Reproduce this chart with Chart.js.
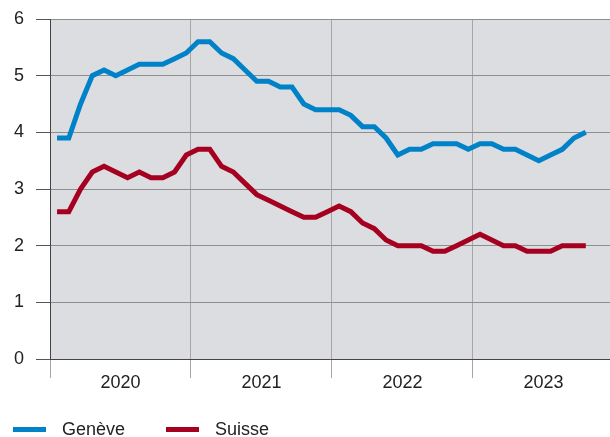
<!DOCTYPE html>
<html lang="fr">
<head>
  <meta charset="UTF-8">
  <title>Genève / Suisse</title>
  <script src="https://cdn.jsdelivr.net/npm/chart.js"></script>
  <style>
    html, body { margin: 0; padding: 0; background: #fff; }
    #wrap { width: 610px; height: 437px; }
  </style>
</head>
<body>
  <div id="wrap"><canvas id="graph"></canvas></div>
  <script>
    // valeurs mensuelles, janvier 2020 -> octobre 2023
    const annees = ['2020', '2021', '2022', '2023'];
    const geneve = [3.9, 3.9, 4.5, 5.0, 5.1, 5.0, 5.1, 5.2, 5.2, 5.2, 5.3, 5.4,
                    5.6, 5.6, 5.4, 5.3, 5.1, 4.9, 4.9, 4.8, 4.8, 4.5, 4.4, 4.4,
                    4.4, 4.3, 4.1, 4.1, 3.9, 3.6, 3.7, 3.7, 3.8, 3.8, 3.8, 3.7,
                    3.8, 3.8, 3.7, 3.7, 3.6, 3.5, 3.6, 3.7, 3.9, 4.0];
    const suisse = [2.6, 2.6, 3.0, 3.3, 3.4, 3.3, 3.2, 3.3, 3.2, 3.2, 3.3, 3.6,
                    3.7, 3.7, 3.4, 3.3, 3.1, 2.9, 2.8, 2.7, 2.6, 2.5, 2.5, 2.6,
                    2.7, 2.6, 2.4, 2.3, 2.1, 2.0, 2.0, 2.0, 1.9, 1.9, 2.0, 2.1,
                    2.2, 2.1, 2.0, 2.0, 1.9, 1.9, 1.9, 2.0, 2.0, 2.0];
    const series = [
      { nom: 'Genève', valeurs: geneve, couleur: '#0082c8' },
      { nom: 'Suisse', valeurs: suisse, couleur: '#a50020' }
    ];

    const police = { family: "'Liberation Sans', Arial, sans-serif", size: 18 };
    const gris = '#a6a6a6';

    const fondGraphe = {
      id: 'fondGraphe',
      beforeDraw(chart) {
        const { ctx, chartArea: a } = chart;
        ctx.save();
        ctx.fillStyle = '#dcdde0';
        ctx.fillRect(a.left, a.top, a.right - a.left, a.bottom - a.top);
        ctx.restore();
      }
    };

    // légende en bas, dessinée à la main pour les écarts
    const legende = {
      id: 'legende',
      afterDraw(chart) {
        const ctx = chart.ctx;
        const pos = [13, 166];
        ctx.save();
        ctx.font = police.size + 'px ' + police.family;
        ctx.textBaseline = 'middle';
        series.forEach((s, i) => {
          ctx.fillStyle = s.couleur;
          ctx.fillRect(pos[i], 427, 33, 5);
          ctx.fillStyle = '#222';
          ctx.fillText(s.nom, pos[i] + 49, 430);
        });
        ctx.restore();
      }
    };

    new Chart(document.getElementById('graph'), {
      type: 'line',
      data: {
        datasets: series.map(s => ({
          label: s.nom,
          data: s.valeurs.map((v, i) => ({ x: i + 0.6, y: v })),
          borderColor: s.couleur,
          backgroundColor: s.couleur,
          borderWidth: 5,
          pointRadius: 0,
          tension: 0
        }))
      },
      options: {
        responsive: true,
        maintainAspectRatio: false,
        animation: false,
        layout: { padding: { top: 19, right: 0, bottom: 38, left: 0 } },
        plugins: { legend: { display: false }, tooltip: { enabled: false } },
        scales: {
          x: {
            type: 'linear',
            min: 0,
            max: 47.66,
            afterFit(scale) { scale.height = 40; },
            // un repère par demi-année : traits aux débuts d'année, libellés au milieu
            afterBuildTicks(scale) {
              scale.ticks = [0, 6, 12, 18, 24, 30, 36, 42].map(v => ({ value: v }));
            },
            ticks: {
              autoSkip: false,
              maxRotation: 0,
              padding: -6,
              color: '#222',
              font: police,
              callback: v => (v % 12 === 6 ? annees[(v - 6) / 12] : '')
            },
            grid: {
              tickLength: 19,
              color: c => (c.tick && c.tick.value % 12 === 0 ? gris : 'transparent'),
              tickColor: c => (c.tick && c.tick.value % 12 === 0 ? gris : 'transparent')
            },
            border: { color: '#444', width: 1 }
          },
          y: {
            min: 0,
            max: 6,
            afterFit(scale) {
              scale.width = 50;
              scale.paddingTop = 0;
              scale.paddingBottom = 0;
            },
            ticks: { stepSize: 1, padding: 12, color: '#222', font: police },
            grid: { color: '#8e8e8e', tickLength: 14, tickColor: '#555' },
            border: { color: '#444', width: 1 }
          }
        }
      },
      plugins: [fondGraphe, legende]
    });
  </script>
</body>
</html>
